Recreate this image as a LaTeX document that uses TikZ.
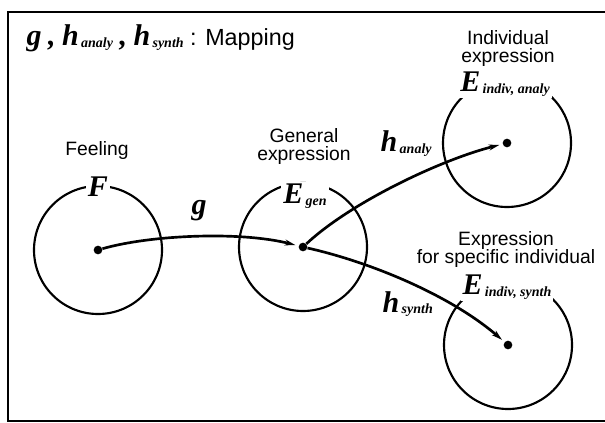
\documentclass[tikz,border=0pt]{standalone}
\usepackage{fontspec}
\setmainfont{Liberation Sans}
\newfontfamily\mapfont{Liberation Serif}
\usetikzlibrary{arrows.meta, positioning}

\newcommand{\mapsym}[1]{{\mapfont\bfseries\itshape\fontsize{22.5}{22}\selectfont #1}}
\newcommand{\mapsub}[1]{\raisebox{-1pt}{\mapfont\bfseries\itshape\fontsize{10.5}{10}\selectfont\,#1}}

\begin{document}
\begin{tikzpicture}[
    x=0.75pt, y=-0.75pt,
    font=\fontsize{14.5}{14}\selectfont,
    ring/.style={circle, draw=black, line width=1.6pt, minimum size=96pt, inner sep=0pt},
    dot/.style={circle, fill=black, minimum size=6.5pt, inner sep=0pt},
    tag/.style={fill=white, inner sep=1.5pt, anchor=base},
    caption/.style={align=center, anchor=base},
    map/.style={-{Stealth[length=8pt, width=4.5pt]}, line width=2pt, shorten >=2.5pt}
]
\useasboundingbox (0,0) rectangle (605,423);
\draw[line width=1.5pt] (8,12) rectangle (640,421);

\node[anchor=base west, font=\fontsize{17.5}{20}\selectfont] (title) at (22,46)
    {\mapsym{g} \mapsym{,} \mapsym{h}\mapsub{analy} \mapsym{,} \mapsym{h}\mapsub{synth} : Mapping};

% the four sets
\node[ring] (F) at (98,250) {};
\node[ring] (Egen) at (303,247) {};
\node[ring] (Ean) at (507,143) {};
\node[ring] (Esy) at (508,345) {};

\node[dot] (f) at (F.center) {};
\node[dot] (egen) at (Egen.center) {};
\node[dot] (ean) at (Ean.center) {};
\node[dot] (esy) at (Esy.center) {};

% names on the circles
\node[tag] (Flbl) at (98,197) {\mapsym{F}};
\node[tag] (Egenlbl) at (305,204) {\mapsym{E}\mapsub{gen}};
\node[tag] (Eanlbl) at (505,92) {\mapsym{E}\mapsub{indiv, analy}};
\node[tag] (Esylbl) at (507,295) {\mapsym{E}\mapsub{indiv, synth}};

% captions (base = last line)
\node[caption] (feel) at (97,156) {Feeling};
\node[caption] (gen) at (304,161) {General\\expression};
\node[caption] (ind) at (508,63) {Individual\\expression};
\node[caption] (spec) at (506,264) {Expression\\for specific individual};

% mappings
\draw[map] (f) .. controls (150,235) and (240,231) .. (egen);
\draw[map] (egen) .. controls (350,203) and (440,160) .. (ean);
\draw[map] (egen) .. controls (370,262) and (450,295) .. (esy);

\node[anchor=base] (g) at (199,215) {\mapsym{g}};
\node[anchor=base west] (han) at (376,152) {\mapsym{h}\mapsub{analy}};
\node[anchor=base west] (hsy) at (378,312) {\mapsym{h}\mapsub{synth}};
\end{tikzpicture}
\end{document}
